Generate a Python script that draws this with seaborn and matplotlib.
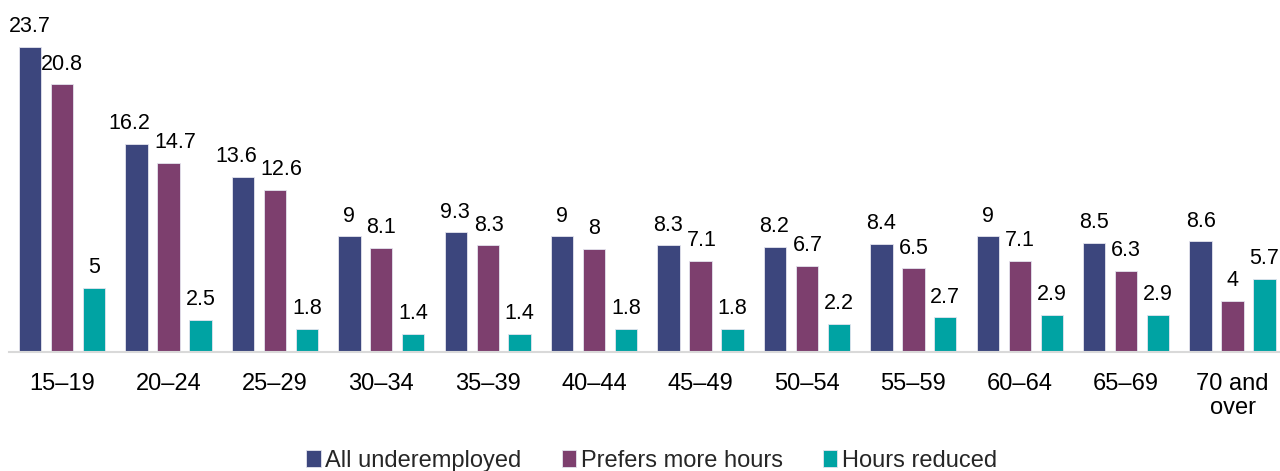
import matplotlib
matplotlib.use("Agg")
import matplotlib.pyplot as plt
import seaborn as sns
import pandas as pd

age_groups = ["15–19", "20–24", "25–29", "30–34", "35–39", "40–44",
              "45–49", "50–54", "55–59", "60–64", "65–69", "70 and\nover"]
all_underemployed = [23.7, 16.2, 13.6, 9, 9.3, 9, 8.3, 8.2, 8.4, 9, 8.5, 8.6]
prefers_more_hours = [20.8, 14.7, 12.6, 8.1, 8.3, 8, 7.1, 6.7, 6.5, 7.1, 6.3, 4]
hours_reduced = [5, 2.5, 1.8, 1.4, 1.4, 1.8, 1.8, 2.2, 2.7, 2.9, 2.9, 5.7]
series_names = ["All underemployed", "Prefers more hours", "Hours reduced"]
colors = ["#3C467D", "#7D3F6E", "#00A3A3"]

frames = []
for name, vals in zip(series_names, [all_underemployed, prefers_more_hours, hours_reduced]):
    frames.append(pd.DataFrame({"age": age_groups, "value": vals, "series": name}))
df = pd.concat(frames, ignore_index=True)

sns.set_theme(style="white")
plt.rcParams["font.family"] = ["Liberation Sans", "DejaVu Sans"]

fig = plt.figure(figsize=(12.8, 4.71), dpi=100)
ax = fig.add_axes([8.8 / 1280, 119 / 471, 1277 / 1280, 328 / 471])

sns.barplot(data=df, x="age", y="value", hue="series", hue_order=series_names,
            palette=colors, saturation=1, width=0.9, gap=0.3, ax=ax, legend=True,
            edgecolor="#E4E4EE", linewidth=0.6)

PAD = 7
label_sets = []
for cont in ax.containers:
    label_sets.append(ax.bar_label(cont, fmt="{:g}", padding=PAD, fontsize=15.5,
                                   color="#000000"))

ax.set_ylim(0, 25.5)
ax.set_xlim(-0.5, 11.5)
ax.set_xlabel("")
ax.set_ylabel("")
ax.set_yticks([])
ax.tick_params(axis="x", length=0, pad=15, labelsize=17, colors="#000000")
for lbl in ax.get_xticklabels():
    lbl.set_linespacing(1.15)
for s in ["top", "right", "left"]:
    ax.spines[s].set_visible(False)
ax.spines["bottom"].set_color("#D9D9D9")
ax.spines["bottom"].set_linewidth(1.5)

# Push apart value labels of neighbouring bars when they collide
fig.canvas.draw()
renderer = fig.canvas.get_renderer()
px_to_pt = 72.0 / fig.dpi
for left_labels, right_labels in zip(label_sets[:-1], label_sets[1:]):
    for a, b in zip(left_labels, right_labels):
        ba = a.get_window_extent(renderer)
        bb = b.get_window_extent(renderer)
        if ba.y1 < bb.y0 or bb.y1 < ba.y0:
            continue
        overlap = ba.x1 + 4 - bb.x0
        if overlap > 0:
            shift = overlap / 2 * px_to_pt
            a.xyann = (a.xyann[0] - shift, a.xyann[1])
            b.xyann = (b.xyann[0] + shift, b.xyann[1])

handles, labels = ax.get_legend_handles_labels()
ax.legend_.remove()
fig.legend(handles, labels, loc="lower center", bbox_to_anchor=(0.509, -0.047),
           ncol=3, frameon=False, fontsize=17, handlelength=0.6, handleheight=0.75,
           handletextpad=0.2, columnspacing=1.7)

fig.savefig("out.png", dpi=100)
